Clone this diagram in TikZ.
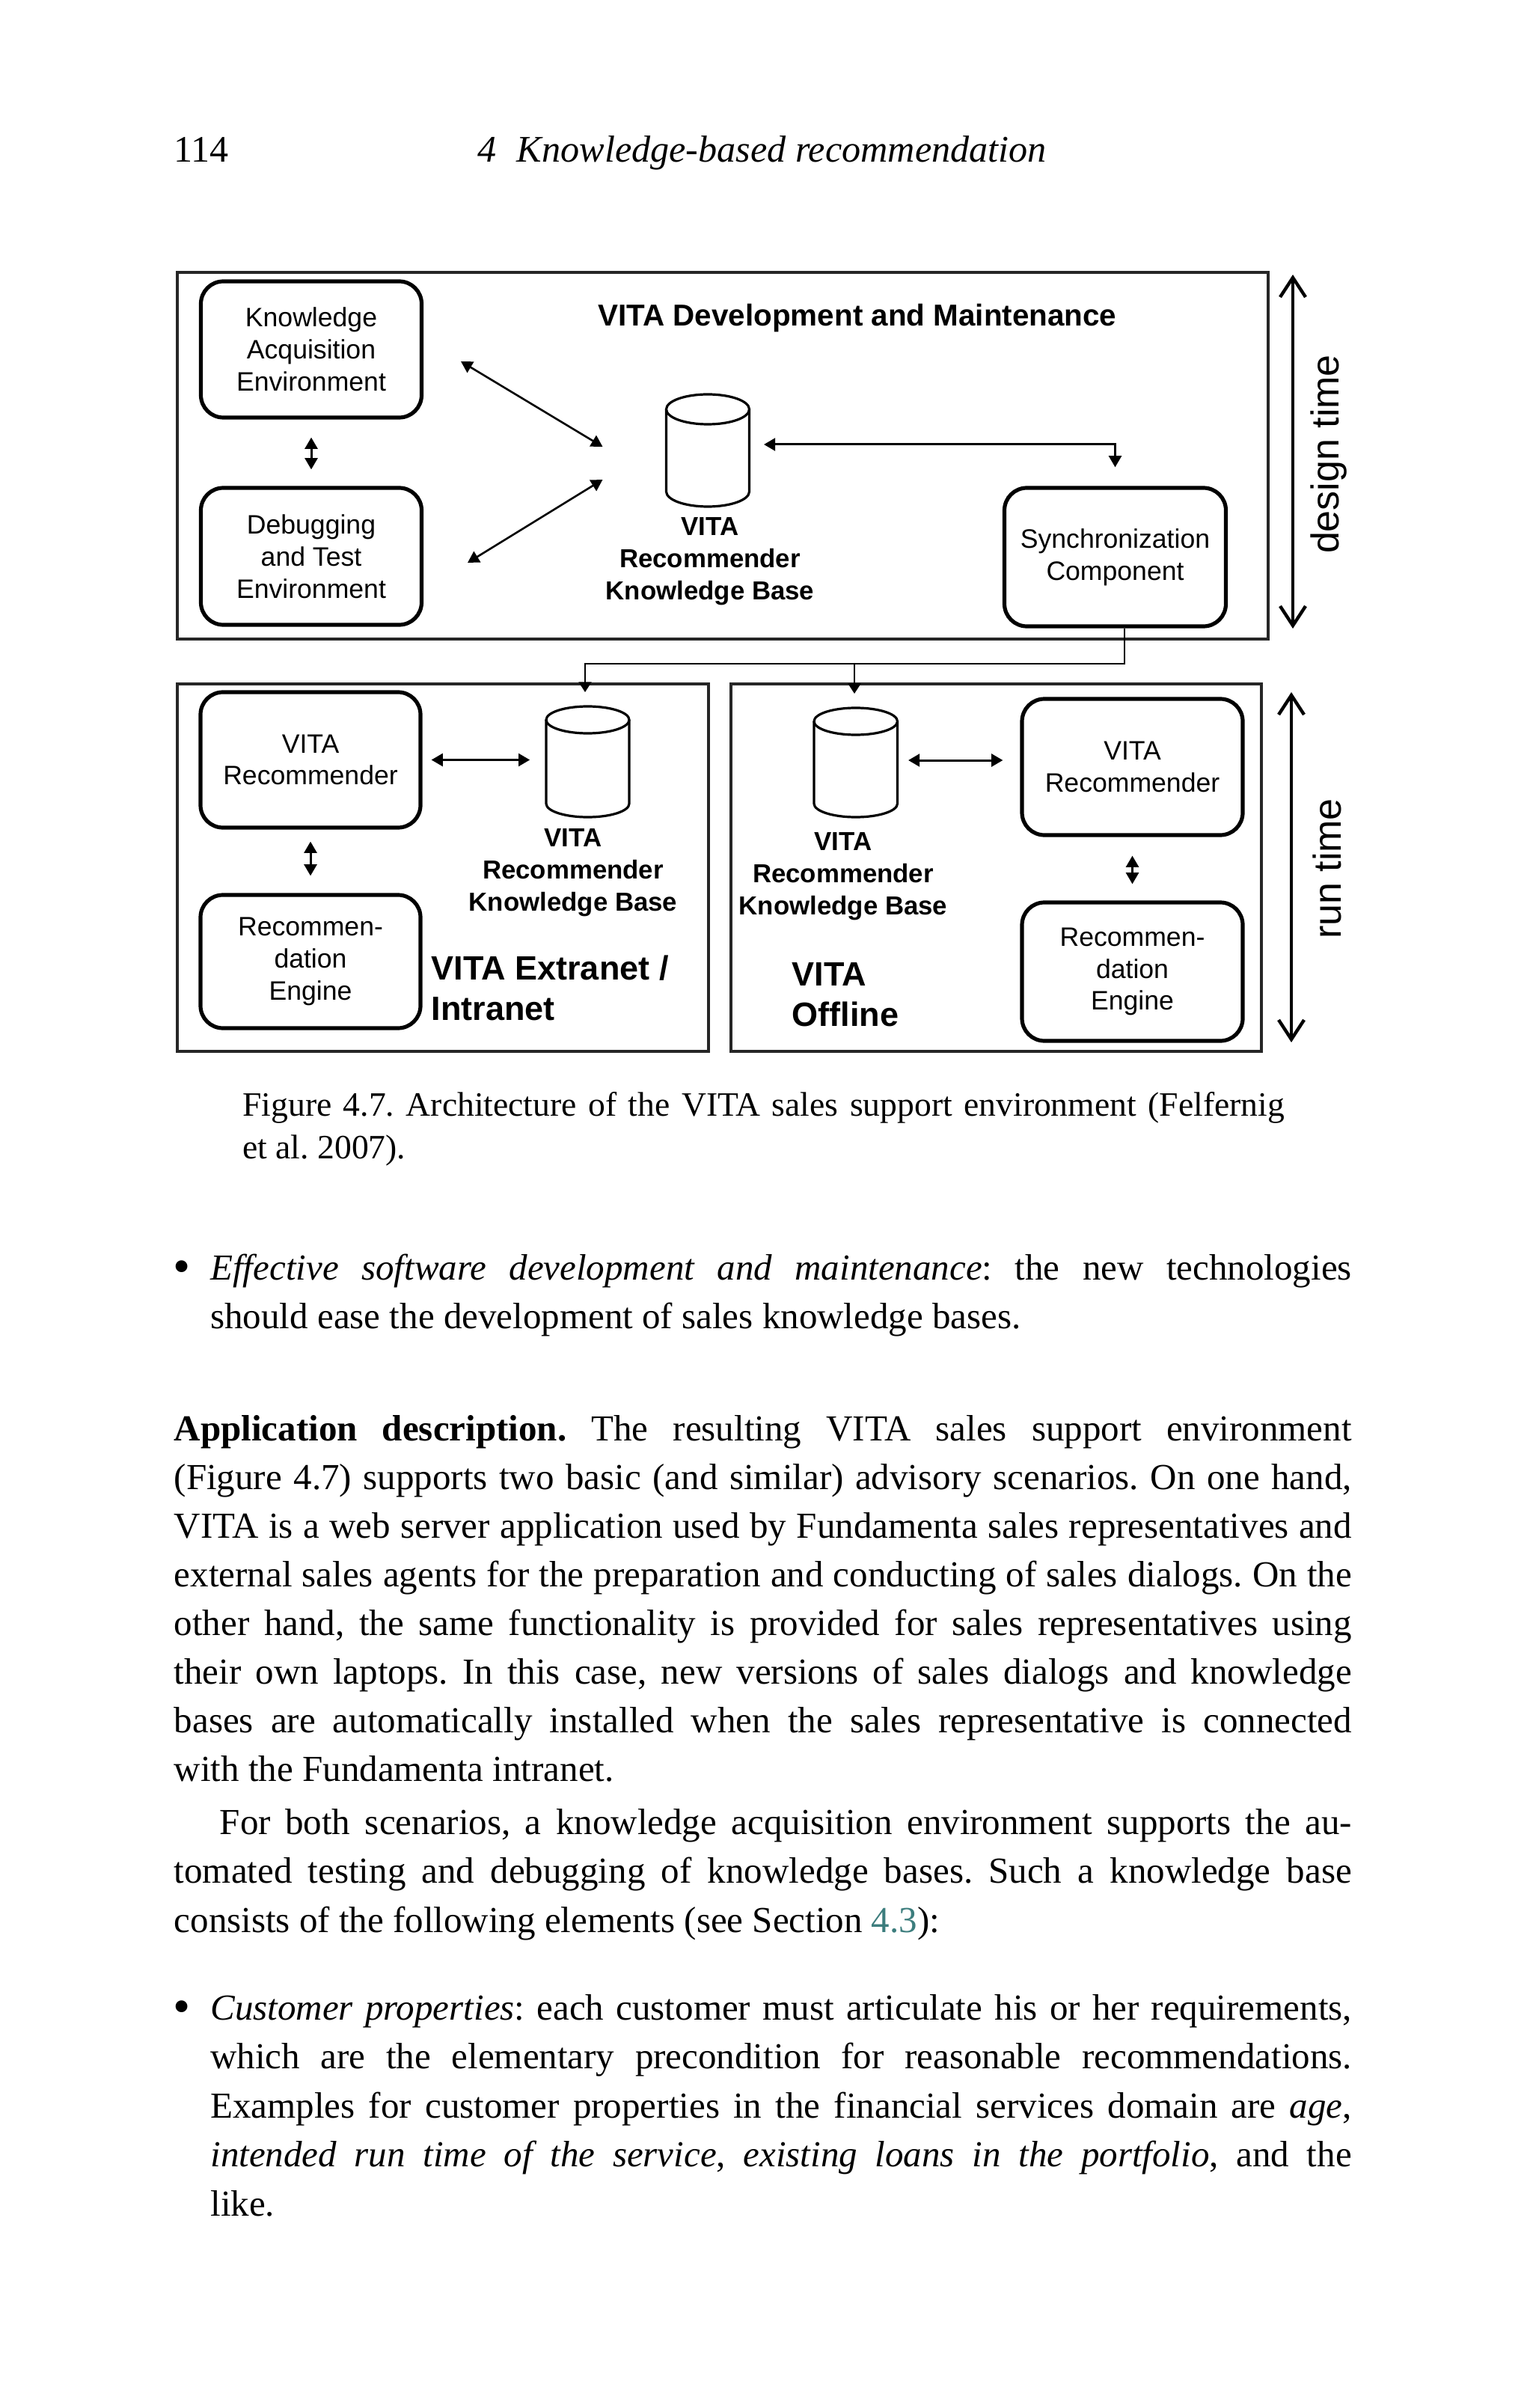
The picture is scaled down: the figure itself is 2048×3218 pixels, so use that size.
\documentclass[tikz,border=0pt]{standalone}
\usepackage{fontspec}
\setmainfont{Liberation Serif}
\newfontfamily\arial{Liberation Sans}
\usetikzlibrary{arrows.meta}
\definecolor{refc}{RGB}{60,125,125}
\newcommand\fullln[1]{\makebox[393.5pt][s]{#1}}
\newcommand\bulln[1]{\makebox[381.35pt][s]{#1}}
\newcommand\capln[1]{\makebox[348.1pt][s]{#1}}
\newcommand\bigbullet{\raisebox{-1.2pt}{\fontsize{16.5pt}{16.5pt}\selectfont\textbullet}}
\begin{document}
\frenchspacing
\begin{tikzpicture}[x=0.25pt,y=-0.25pt,
  box/.style={draw, line width=1.3pt, rounded corners=7.5pt, align=center, inner sep=0pt,
    font=\arial\fontsize{8.9pt}{10.7pt}\selectfont},
  frame/.style={draw=black!85, line width=0.85pt, inner sep=0pt},
  arr/.style={line width=0.75pt, {Triangle[length=3.8pt,width=4.2pt]}-{Triangle[length=3.8pt,width=4.2pt]}},
  conn/.style={line width=0.65pt, -{Triangle[length=3.4pt,width=4.2pt]}},
  cyl/.style={line width=0.8pt},
  kblab/.style={align=center, inner sep=0pt, font=\arial\bfseries\fontsize{8.7pt}{10.7pt}\selectfont},
  biglab/.style={align=left, anchor=west, inner sep=0pt, font=\arial\bfseries\fontsize{11.25pt}{13.5pt}\selectfont},
  timearr/.style={line width=1.1pt, {Straight Barb[length=6.5pt,width=8.5pt]}-{Straight Barb[length=6.5pt,width=8.5pt]}},
  timelab/.style={rotate=90, anchor=base, inner sep=0pt, font=\arial\fontsize{13pt}{15pt}\selectfont},
  txt/.style={anchor=base west, inner sep=0pt, font=\fontsize{12.25pt}{16pt}\selectfont},
  captxt/.style={anchor=base west, inner sep=0pt, font=\fontsize{11.4pt}{14pt}\selectfont}
]
\useasboundingbox (0,0) rectangle (2048,3218);
\fill[white] (0,0) rectangle (2048,3218);

% ---------- header ----------
\node[txt, font=\fontsize{12.5pt}{16pt}\selectfont] (pgno) at (232,217) {114};
\node[txt, anchor=base, font=\fontsize{12.55pt}{16pt}\selectfont] (runhead) at (1018.5,217) {\itshape 4\hspace{0.55em}Knowledge-based recommendation};

% ---------- frames ----------
\node[frame, minimum width=364.5pt, minimum height=122.5pt] (dev) at (966,609) {};
\node[frame, minimum width=177.5pt, minimum height=122.75pt] (extra) at (592,1159.5) {};
\node[frame, minimum width=177.25pt, minimum height=122.75pt] (offl) at (1331.5,1159.5) {};

% ---------- top section ----------
\node[box, minimum width=73.75pt, minimum height=45.5pt] (kae) at (416,467) {Knowledge\\Acquisition\\Environment};
\node[box, minimum width=73.75pt, minimum height=45.75pt] (dte) at (416,743.5) {Debugging\\and Test\\Environment};
\node[box, minimum width=74pt, minimum height=46.25pt] (sync) at (1490.5,744.5) {Synchronization\\Component};
\node[inner sep=0pt, font=\arial\bfseries\fontsize{10.1pt}{12pt}\selectfont] (title) at (1146,425) {VITA Development and Maintenance};

% top knowledge base cylinder
\node[inner sep=0pt, minimum width=27.75pt, minimum height=37.5pt] (kb) at (946,602) {};
\draw[cyl] (890.5,547) -- (890.5,657) arc[start angle=180, end angle=0, x radius=55.5, y radius=20] -- (1001.5,547);
\draw[cyl] (946,547) ellipse [x radius=55.5, y radius=20];
\node[kblab] (kblab) at (949,750) {VITA\\Recommender\\Knowledge Base};

% arrows top
\draw[arr] ([yshift=-6pt]kae.south) -- ([yshift=5.5pt]dte.north);
\coordinate (d1s) at (616,483);
\coordinate (d1e) at (805.5,597);
\coordinate (d2s) at (805.5,641);
\coordinate (d2e) at (625,752);
\draw[arr, line width=0.65pt] (d1s) -- (d1e);
\draw[arr, line width=0.65pt] (d2s) -- (d2e);
\coordinate (ks) at (1021,594);
\draw[arr] (ks) -| ([yshift=6.25pt]sync.north);

% design time
\coordinate (dt1) at (1728,367);
\coordinate (dt2) at (1728,840);
\draw[timearr] (dt1) -- (dt2);
\node[timelab] (dtl) at (1789,607) {design time};

% ---------- sync connectors ----------
\coordinate (bus) at (1503,887);
\coordinate (t1) at (782,925);
\coordinate (t2) at (1142,927);
\draw[conn] (sync.south -| bus) -- (bus) -| (t1);
\draw[conn] (bus -| t2) -- (t2);

% ---------- extranet / intranet ----------
\node[box, minimum width=73.5pt, minimum height=45.25pt] (lvr) at (415,1015.5) {VITA\\Recommender};
\node[box, minimum width=73.5pt, minimum height=44.5pt] (lre) at (415,1285) {Recommen-\\dation\\Engine};
\node[inner sep=0pt, minimum width=27.75pt, minimum height=37pt] (lkb) at (785.5,1018) {};
\draw[cyl] (730,962) -- (730,1074) arc[start angle=180, end angle=0, x radius=55.5, y radius=18] -- (841,962);
\draw[cyl] (785.5,962) ellipse [x radius=55.5, y radius=18];
\node[kblab] (lkblab) at (766,1166) {VITA\\Recommender\\Knowledge Base};
\node[biglab] (extlab) at (576,1320) {VITA Extranet /\\Intranet};
\draw[arr] ([xshift=3pt]lvr.east) -- ([xshift=-5.25pt]lkb.west |- lvr.east);
\draw[arr] ([yshift=-4pt]lvr.south) -- ([yshift=5.75pt]lre.north);

% ---------- offline ----------
\node[inner sep=0pt, minimum width=27.9pt, minimum height=36.5pt] (rkb) at (1143.75,1019) {};
\draw[cyl] (1088,964) -- (1088,1074) arc[start angle=180, end angle=0, x radius=55.75, y radius=18] -- (1199.5,964);
\draw[cyl] (1143.75,964) ellipse [x radius=55.75, y radius=18];
\node[kblab] (rkblab) at (1127,1171) {VITA\\Recommender\\Knowledge Base};
\node[biglab] (offlab) at (1058,1329) {VITA\\Offline};
\node[box, minimum width=73.75pt, minimum height=45.5pt] (rvr) at (1513.5,1025) {VITA\\Recommender};
\node[box, minimum width=73.75pt, minimum height=46.25pt] (rre) at (1513.5,1298.5) {Recommen-\\dation\\Engine};
\coordinate (rh) at (1214,1016);
\draw[arr] (rh) -- ([xshift=-5.75pt]rh -| rvr.west);
\draw[arr] ([yshift=-6.25pt]rvr.south) -- ([yshift=5.5pt]rre.north);

% run time
\coordinate (rt1) at (1726,925);
\coordinate (rt2) at (1726,1393);
\draw[timearr] (rt1) -- (rt2);
\node[timelab] (rtl) at (1792,1161) {run time};

% ---------- caption ----------
\node[captxt] (cap1) at (323.6,1491) {\capln{Figure 4.7. Architecture of the VITA sales support environment (Felfernig}};
\node[captxt] (cap2) at (323.6,1548) {et al. 2007).};

% ---------- body text ----------
\node[txt] (bu1) at (231,1710) {\bigbullet};
\node[txt] (e1) at (280.6,1710) {\bulln{\textit{Effective software development and maintenance}: the new technologies}};
\node[txt] (e2) at (280.6,1775) {should ease the development of sales knowledge bases.};

\node[txt] (a1) at (232,1925) {\fullln{\textbf{Application description.} The resulting VITA sales support environment}};
\node[txt] (a2) at (232,1990) {\fullln{(Figure 4.7) supports two basic (and similar) advisory scenarios. On one hand,}};
\node[txt] (a3) at (232,2055) {\fullln{VITA is a web server application used by Fundamenta sales representatives and}};
\node[txt] (a4) at (232,2120) {\fullln{external sales agents for the preparation and conducting of sales dialogs. On the}};
\node[txt] (a5) at (232,2185) {\fullln{other hand, the same functionality is provided for sales representatives using}};
\node[txt] (a6) at (232,2250) {\fullln{their own laptops. In this case, new versions of sales dialogs and knowledge}};
\node[txt] (a7) at (232,2315) {\fullln{bases are automatically installed when the sales representative is connected}};
\node[txt] (a8) at (232,2380) {with the Fundamenta intranet.};

\node[txt] (f1) at (293,2451) {\makebox[378.25pt][s]{For both scenarios, a knowledge acquisition environment supports the au-}};
\node[txt] (f2) at (232,2516) {\fullln{tomated testing and debugging of knowledge bases. Such a knowledge base}};
\node[txt] (f3) at (232,2582) {consists of the following elements (see Section \textcolor{refc}{4.3}):};

\node[txt] (bu2) at (231,2699) {\bigbullet};
\node[txt] (c1) at (280.6,2699) {\bulln{\textit{Customer properties}: each customer must articulate his or her requirements,}};
\node[txt] (c2) at (280.6,2764) {\bulln{which are the elementary precondition for reasonable recommendations.}};
\node[txt] (c3) at (280.6,2830) {\bulln{Examples for customer properties in the financial services domain are \textit{age},}};
\node[txt] (c4) at (280.6,2895) {\bulln{\textit{intended run time of the service}, \textit{existing loans in the portfolio}, and the}};
\node[txt] (c5) at (280.6,2961) {like.};
\end{tikzpicture}
\end{document}
